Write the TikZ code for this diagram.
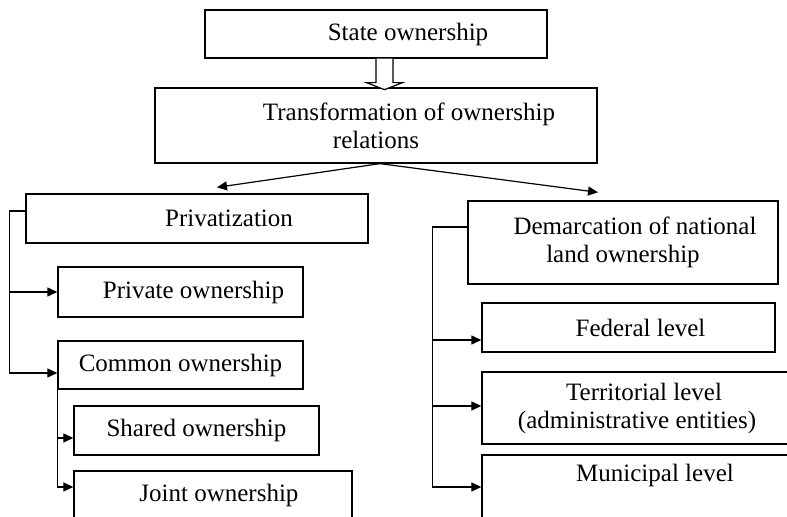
\documentclass[tikz,border=0pt]{standalone}
\usepackage{fontspec}
\setmainfont{Liberation Serif}
\usetikzlibrary{arrows.meta,calc}
\tikzset{
  box/.style={draw, line width=0.65pt, inner sep=0pt, align=center,
    font=\fontsize{12.5}{14}\selectfont},
}
\begin{document}
\begin{tikzpicture}[x=0.5pt, y=-0.5pt, >={Triangle[length=5pt,width=4.5pt]}, line width=0.6pt]
    \useasboundingbox (0,0) rectangle (787,517);
    \clip (0,0) rectangle (787,517);

    \node[box, minimum width=171pt, minimum height=24pt] (state) at (376,34) {\hspace*{32pt}State ownership};
    \node[box, minimum width=221pt, minimum height=37.5pt] (trans) at (376,125.5)
        {\hspace*{33pt}Transformation of ownership\\relations};

    \node[box, minimum width=171pt, minimum height=24.5pt] (priv) at (197,218.5) {\hspace*{32pt}Privatization};
    \node[box, minimum width=122.5pt, minimum height=25pt] (private) at (180.5,292) {\hspace*{13pt}Private ownership};
    \node[box, minimum width=122.5pt, minimum height=24pt] (common) at (180.5,365) {Common ownership};
    \node[box, minimum width=122.5pt, minimum height=24.5pt] (shared) at (196.5,430.5) {Shared ownership};
    \node[box, minimum width=139pt, minimum height=24pt] (joint) at (213,495) {\hspace*{6pt}Joint ownership};

    \node[box, minimum width=155pt, minimum height=41.5pt] (demarc) at (623,242.5)
        {\hspace*{12pt}Demarcation of national\\land ownership};
    \node[box, minimum width=146.5pt, minimum height=24.5pt] (federal) at (628.5,327.5) {\hspace*{12pt}Federal level};
    \node[box, minimum width=155pt, minimum height=36pt] (territ) at (637,408)
        {\hspace*{7pt}Territorial level\\(administrative entities)};
    \node[box, minimum width=173pt, minimum height=36pt] (munic) at (655,491) {Municipal level\\\strut};

    % hollow arrow
    \coordinate (ha) at ([xshift=4.25pt]state.south);
    \draw[fill=white] ($(ha)+(-8.5,0)$) -- ++(0,24) -- ++(-9.5,0) -- ($(ha)+(0,31)$)
        -- ($(ha)+(18,24)$) -- ++(-9.5,0) -- ++(0,-24);

    \draw[->] ([xshift=2pt]trans.south) -- ([xshift=10pt,yshift=3pt]priv.north);
    \draw[->] ([xshift=2pt]trans.south) -- ([xshift=-12.5pt,yshift=4pt]demarc.north);

    \draw ([yshift=3.75pt]priv.west) -- ++(-16,0) coordinate (pbus);
    \draw[->] (pbus) |- (private.west);
    \draw[->] (pbus) |- ([yshift=-4pt]common.west);
    \draw[->] (common.south west) |- ([yshift=-3.75pt]shared.west);
    \draw[->] (common.south west) |- ([yshift=4pt]joint.west);

    \draw ([yshift=7.75pt]demarc.west) -- ++(-35,0) coordinate (dbus);
    \draw[->] (dbus) |- ([yshift=-6.25pt]federal.west);
    \draw[->] (dbus) |- ([yshift=1pt]territ.west);
    \draw[->] (dbus) |- ([yshift=2pt]munic.west);
\end{tikzpicture}
\end{document}
